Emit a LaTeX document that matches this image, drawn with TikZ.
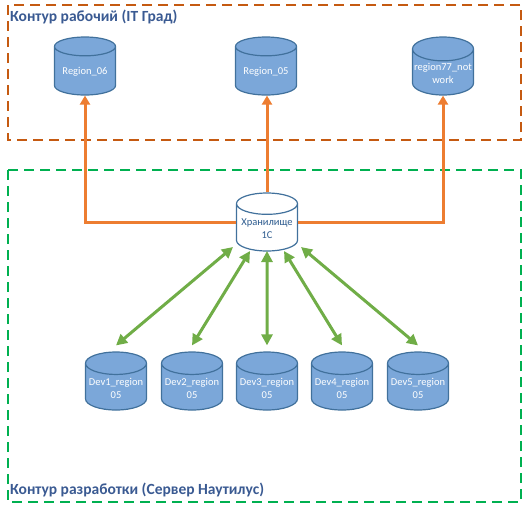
\documentclass[tikz,border=0pt]{standalone}
\usepackage{fontspec}
\setmainfont{Carlito}
\usetikzlibrary{shapes.geometric,arrows.meta,calc}

\definecolor{dbfill}{HTML}{7BA7D9}
\definecolor{dbline}{HTML}{41719C}
\definecolor{hubtext}{HTML}{2E5C8F}
\definecolor{titleblue}{HTML}{3A5A92}
\definecolor{arrorange}{HTML}{ED7D31}
\definecolor{boxorange}{HTML}{C55A11}
\definecolor{arrgreen}{HTML}{70AD47}
\definecolor{boxgreen}{HTML}{00B050}

\begin{document}
\begin{tikzpicture}[x=1pt, y=-1pt,
    db/.style={cylinder, shape border rotate=90, aspect=0.4, draw=dbline, line width=1.2pt,
        cylinder uses custom fill, cylinder body fill=dbfill, cylinder end fill=dbfill,
        minimum width=61pt, minimum height=58pt, inner sep=1pt, align=center,
        anchor=shape center, text=white, font=\fontsize{10.5}{13}\selectfont},
    hubdb/.style={db, cylinder body fill=white, cylinder end fill=white, text=hubtext},
    zone/.style={line width=2pt, dash pattern=on 10pt off 6pt},
    zonetitle/.style={anchor=west, inner sep=0pt, text=titleblue, font=\bfseries\fontsize{15.5}{17}\selectfont},
    up/.style={arrorange, line width=3pt, -{Triangle[width=10pt,length=9pt]}},
    sync/.style={arrgreen, line width=3pt, {Triangle[width=11pt,length=11pt]}-{Triangle[width=11pt,length=11pt]}}]
    \useasboundingbox (0,0) rectangle (529,509);

    % Zones
    \draw[zone, boxorange] (8,5) rectangle (521,140);
    \draw[zone, boxgreen] (8,170) rectangle (521,502);
    \node[zonetitle] (titlework) at (10,17) {Контур рабочий (IT Град)};
    \node[zonetitle] (titledev) at (10,490) {Контур разработки (Сервер Наутилус)};

    % Work databases
    \node[db] (r06) at (85,66) {Region\_06};
    \node[db] (r05) at (266,66) {Region\_05};
    \node[db] (r77) at (443,66) {region77\_not\\work};

    % Storage
    \node[hubdb] (hub) at (267,222) {Хранилище\\1С};

    % Dev databases
    \node[db] (dev1) at (116,381) {Dev1\_region\\05};
    \node[db] (dev2) at (192,381) {Dev2\_region\\05};
    \node[db] (dev3) at (267,381) {Dev3\_region\\05};
    \node[db] (dev4) at (342,381) {Dev4\_region\\05};
    \node[db] (dev5) at (418,381) {Dev5\_region\\05};

    % Arrows
    \draw[up] (hub.west |- hub.shape center) -| (r06.south);
    \draw[up] (hub.north) -- (hub.north |- r05.south);
    \draw[up] (hub.east |- hub.shape center) -| (r77.south);
    \draw[sync] ($(hub.shape center)+(-34,25)$) -- ($(dev1.north)+(0,-6)$);
    \draw[sync] ($(hub.shape center)+(-17,29)$) -- ($(dev2.north)+(0,-6)$);
    \draw[sync] ($(hub.shape center)+(0,29)$) -- ($(dev3.north)+(0,-6)$);
    \draw[sync] ($(hub.shape center)+(17,29)$) -- ($(dev4.north)+(0,-6)$);
    \draw[sync] ($(hub.shape center)+(34,25)$) -- ($(dev5.north)+(0,-6)$);
\end{tikzpicture}
\end{document}
